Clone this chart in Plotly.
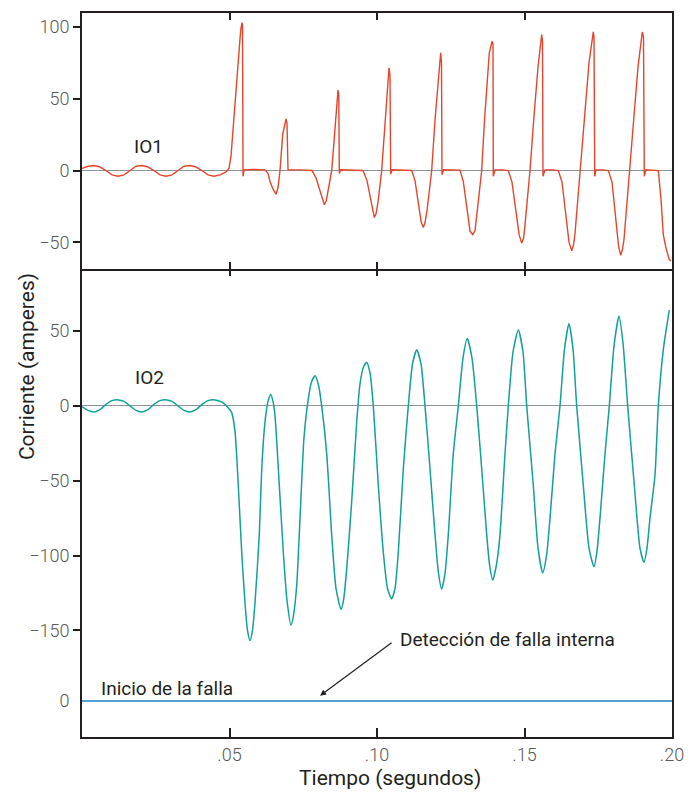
import plotly.graph_objects as go

# ---- data (time in ms, current in amperes) ----
t_io1 = [0, 2.03, 4.07, 6.10, 8.14, 10.17, 12.20, 14.24, 16.27, 18.31, 20.34, 22.37, 24.41, 26.44, 28.47,
         30.51, 32.54, 34.58, 36.61, 38.64, 40.68, 42.71, 44.75, 46.78, 48.81, 49.83, 50.51, 51.29, 52.44,
         53.80, 54.24, 54.41, 54.58, 54.92,
         58.0, 62.03, 63.05, 63.73, 64.75, 65.76, 66.44, 67.12, 68.03, 68.81, 69.15, 69.49, 69.59, 69.83,
         73.90, 77.97, 79.32, 80.68, 81.5, 82.14, 82.8, 83.39, 84.64, 85.42, 86.10, 86.78, 87.05, 87.22, 87.63,
         91.5, 95.25, 96.61, 97.97, 98.6, 99.08, 99.7, 100.34, 101.59, 102.71, 103.73, 104.07, 104.41, 104.64, 105.08,
         108.5, 111.76, 112.88, 114.24, 115.0, 115.69, 116.3, 116.95, 118.54, 119.66, 120.85, 121.59, 121.86, 122.03, 122.54,
         125.5, 128.14, 129.25, 130.41, 131.53, 132.44, 133.22, 134.34, 135.49, 136.44, 137.29, 138.07, 138.98, 139.32, 139.42, 140.0,
         142.5, 144.51, 145.76, 147.12, 148.2, 149.05, 149.7, 150.17, 151.86, 153.22, 154.58, 155.83, 156.10, 156.27, 156.95,
         159.5, 161.46, 162.71, 164.07, 165.1, 166.0, 166.6, 167.12, 168.81, 170.51, 171.86, 173.32, 173.56, 173.80, 174.24,
         176.5, 178.41, 179.66, 181.02, 181.9, 182.61, 183.2, 183.73, 185.76, 187.12, 188.47, 189.93, 190.34, 190.61, 191.19,
         193.5, 195.36, 196.27, 197.05, 197.97, 199.08, 199.66]
io1 = [1.5, 3.0, 3.5, 2.5, 0, -3, -4, -3, 0, 3, 3.5, 2.5, 0, -3, -4,
       -3, 0, 3, 3.5, 2.5, 0, -3, -4, -3, -1, 1.6, 10, 32, 60,
       98, 103, 101, -4, 0.5,
       0.8, 0.5, -2, -7.6, -13, -16.5, -12, 0, 25, 33, 36, 33, 2, 0.5,
       0.5, 0, -5, -14, -21, -23.8, -21, -15, 0, 20, 36, 56, 52, -2, 0.5,
       0.5, 0, -7, -22, -30, -32.6, -30, -22, 0, 35, 62, 71.5, 66, -2.5, 0.5,
       0.5, 0, -7, -25, -36, -39.6, -36, -28, 0, 35, 65, 82, 75, -3, 0.5,
       0.5, 0.3, -7.6, -26, -42, -44.7, -42, -21.5, 0, 35, 62, 82, 90, 88, -4, 0.5,
       0.5, 0, -8, -30, -45, -50.5, -47, -38, 0, 38, 72, 94.7, 90, -4, 0.5,
       0.5, 0, -8, -32, -50, -55.8, -52, -44, 0, 45, 75, 96.5, 93, -4, 0.5,
       0.5, 0, -8, -35, -53, -59, -55, -48, 0, 38, 72, 96.5, 93, -4, 0.5,
       0.5, 0, -20, -44.7, -54, -62, -63]

t_io2 = [0, 2.03, 4.17, 6.10, 8.14, 10.17, 12.31, 14.24, 16.27, 18.31, 20.24, 22.37, 24.41, 26.44, 28.71,
         30.51, 32.54, 34.58, 36.61, 38.64, 40.68, 42.71, 45.08, 47.46, 49.49, 50.75,
         51.86, 52.98, 54.14, 55.25, 56.10, 56.95, 57.80, 58.64, 60.10, 60.92, 62.03, 63.05, 63.97, 64.75, 65.42,
         66.88, 68.24, 69.49, 70.85, 71.69, 72.78, 73.90, 75.25, 76.71, 77.80, 78.98, 80.17, 81.25,
         82.95, 84.64, 86.10, 87.80, 88.64, 89.73, 91.42, 93.12, 94.24, 95.42, 96.51, 97.63, 98.75,
         100.44, 102.14, 103.56, 104.98, 106.10, 107.22, 108.92, 110.61, 112.03, 113.46, 114.92, 116.27,
         117.97, 119.66, 120.85, 121.93, 123.05, 124.17, 125.86, 127.56, 129.15, 130.61, 132.20, 133.80,
         135.49, 137.19, 138.14, 139.22, 140.51, 141.69, 143.39, 144.51, 146.10, 147.90, 149.49, 150.75,
         152.98, 154.58, 156.17, 157.46, 158.64, 160.34, 162.03, 163.56, 165.08, 166.44, 167.69,
         169.93, 171.86, 173.56, 174.58, 175.59, 177.29, 178.75, 180.34, 182.03, 183.39, 184.98,
         187.22, 189.15, 190.51, 191.53, 192.54, 194.24, 195.36, 197.05, 199.08]
io2 = [-0.5, -3, -4, -2.5, 1, 3.5, 4, 3, 0, -3, -4, -2.5, 1, 3.5, 4,
       3, 0, -3, -4, -2.5, 1, 3.5, 4, 2.5, -1, -4.5,
       -17, -53, -97.8, -131.7, -150, -156.8, -150, -131.7, -86, -42.4, -10.8, 3, 7.7, 3, -6.5,
       -53, -97.8, -130, -146.6, -140, -120, -75, -21.3, 4.7, 16, 20.1, 14, 0,
       -31.8, -86, -122, -136, -130, -109, -64, -10.8, 14.7, 26, 29, 22, 0,
       -53, -97.8, -122, -129, -122, -97.8, -42, 0, 28, 37.5, 28, 0,
       -42, -86, -112, -122.5, -112, -86, -32, 0, 32, 45, 32, 0,
       -42, -86, -106, -116.4, -106, -86, -32, 0, 36, 50.7, 36, 0,
       -53, -95, -111.6, -100, -75.3, -32, 0, 38, 55, 38, 0,
       -53, -95, -107.5, -97, -75, -32, 0, 40, 60, 42, 0,
       -53, -95, -104.5, -95, -75, -46, 0, 37.5, 64]

t_trip = [0, 200]
trip = [0, 0]

x_ticks = [0.05, 0.10, 0.15, 0.20]
x_ticktext = [".05", ".10", ".15", ".20"]
y1_ticks = [-50, 0, 50, 100]
y2_ticks = [-150, -100, -50, 0, 50]
y3_ticks = [0]

# ---- styles ----
RED = "#e4452c"
TEAL = "#12a09a"
BLUE = "#1b80c4"
DARK = "#231f20"
TICKGRAY = "#58585a"
ZERO = "#8d949a"
FONT = "Roboto"


def lab(v):
    return str(v).replace("-", "\u2212")


sec = lambda arr: [v / 1000.0 for v in arr]

fig = go.Figure()
fig.add_trace(go.Scatter(x=sec(t_io1), y=io1, mode="lines", line=dict(color=RED, width=1.4),
                         xaxis="x3", yaxis="y", showlegend=False))
fig.add_trace(go.Scatter(x=sec(t_io2), y=io2, mode="lines", line=dict(color=TEAL, width=1.5, shape="spline", smoothing=0.6),
                         xaxis="x2", yaxis="y2", showlegend=False))
fig.add_trace(go.Scatter(x=sec(t_trip), y=trip, mode="lines", line=dict(color=BLUE, width=1.5),
                         xaxis="x", yaxis="y3", showlegend=False))

H = 726.0
d_top = (737 - 268) / H
d_mid = (737 - 665) / H

common_x = dict(range=[0, 0.2], tickvals=x_ticks, showgrid=False, zeroline=False,
                linecolor=DARK, linewidth=2, ticks="inside", tickcolor=DARK, tickwidth=1.5)

yfont = dict(family=FONT, size=18, color=TICKGRAY, weight=300)

fig.update_layout(
    width=692, height=786,
    margin=dict(l=74, r=28, t=3, b=57),
    plot_bgcolor="white", paper_bgcolor="white",
    font=dict(family=FONT, color=DARK),
    xaxis=dict(**common_x, showline=True, domain=[0, 1], anchor="y3", side="bottom", ticklen=9,
               ticktext=x_ticktext, tickfont=dict(family=FONT, size=18, color=TICKGRAY, weight=300)),
    xaxis2=dict(**common_x, showline=False, domain=[0, 1], anchor="y2", side="top", ticklen=7, showticklabels=False),
    xaxis3=dict(**common_x, showline=True, domain=[0, 1], anchor="y", side="bottom", mirror="ticks", ticklen=7,
                showticklabels=False),
    yaxis=dict(domain=[d_top, 1], anchor="x3", range=[-68.75, 109.7], tickvals=y1_ticks,
               ticktext=[lab(v) for v in y1_ticks], showgrid=False, zeroline=True, zerolinecolor=ZERO, zerolinewidth=1.2,
               showline=True, mirror=True, linecolor=DARK, linewidth=2, ticks="outside", ticklen=7,
               tickcolor=DARK, tickwidth=1.5, tickfont=yfont),
    yaxis2=dict(domain=[d_mid, d_top], anchor="x2", range=[-173.3, 91.3], tickvals=y2_ticks,
                ticktext=[lab(v) for v in y2_ticks], showgrid=False, zeroline=True, zerolinecolor=ZERO, zerolinewidth=1.2,
                showline=True, mirror=True, linecolor=DARK, linewidth=2, ticks="outside", ticklen=7,
                tickcolor=DARK, tickwidth=1.5, tickfont=yfont),
    yaxis3=dict(domain=[0, d_mid], anchor="x", range=[-1, 1], tickvals=y3_ticks, ticktext=["0"],
                showgrid=False, zeroline=False, showline=True, mirror=True, linecolor=DARK, linewidth=2,
                ticks="outside", ticklen=7, tickcolor="rgba(0,0,0,0)", tickfont=yfont),
    yaxis4=dict(overlaying="y", anchor="x3", side="right", range=[-68.75, 109.7], tickvals=y1_ticks,
                showticklabels=False, showgrid=False, zeroline=False, showline=False,
                ticks="inside", ticklen=7, tickcolor=DARK, tickwidth=1.5),
    yaxis5=dict(overlaying="y2", anchor="x2", side="right", range=[-173.3, 91.3], tickvals=y2_ticks,
                showticklabels=False, showgrid=False, zeroline=False, showline=False,
                ticks="inside", ticklen=7, tickcolor=DARK, tickwidth=1.5),
)

ann_font = dict(family=FONT, size=19, color=DARK)
title_font = dict(family=FONT, size=21, color=DARK, weight=400)
fig.add_annotation(text="IO1", x=0.0224, y=17, xref="x3", yref="y", showarrow=False, font=ann_font)
fig.add_annotation(text="IO2", x=0.023, y=19, xref="x2", yref="y2", showarrow=False, font=ann_font)
fig.add_annotation(text="Inicio de la falla", x=0.0058, y=0.36, xref="x", yref="y3", xanchor="left",
                   showarrow=False, font=ann_font)
fig.add_annotation(text="Detección de falla interna", x=0.1071, y=-156, xref="x2", yref="y2", xanchor="left",
                   showarrow=False, font=ann_font)
fig.add_annotation(text="", x=0.0807, y=0.15, xref="x", yref="y3", showarrow=True, ax=73, ay=-54,
                   arrowhead=2, arrowsize=1, arrowwidth=1.2, arrowcolor=DARK)
fig.add_annotation(text="Tiempo (segundos)", x=0.522, y=-0.0565, xref="paper", yref="paper",
                   showarrow=False, font=title_font, yanchor="middle")
fig.add_annotation(text="Corriente (amperes)", x=-0.0932, y=0.511, xref="paper", yref="paper",
                   showarrow=False, textangle=-90, font=title_font,
                   xanchor="center", yanchor="middle")

fig.write_html("out.html")
